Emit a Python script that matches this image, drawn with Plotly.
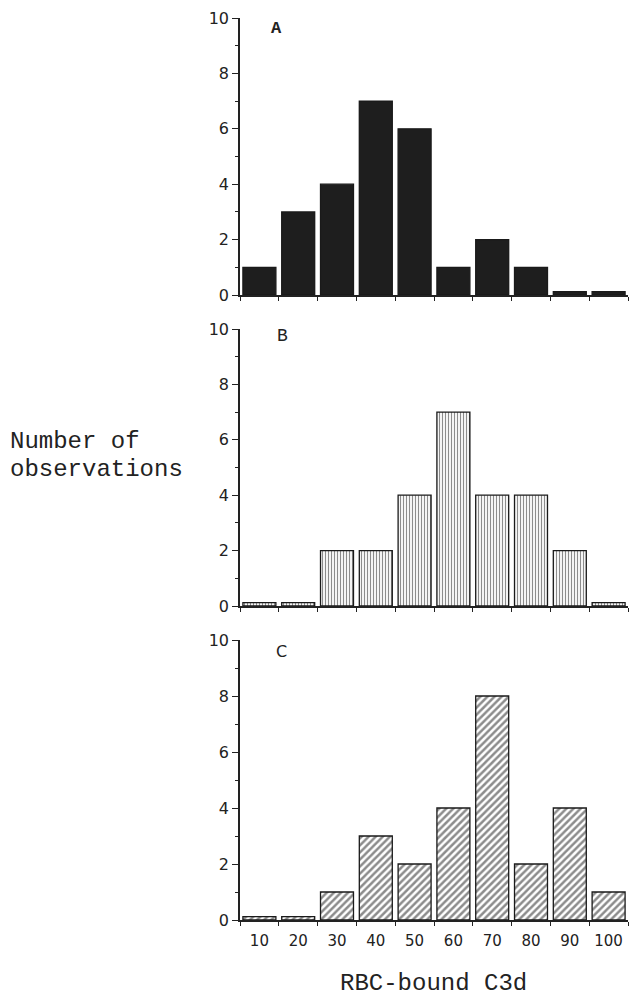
import plotly.graph_objects as go

bins = ["10", "20", "30", "40", "50", "60", "70", "80", "90", "100"]
counts_a = [1, 3, 4, 7, 6, 1, 2, 1, 0, 0]
counts_b = [0, 0, 2, 2, 4, 7, 4, 4, 2, 0]
counts_c = [0, 0, 1, 3, 2, 4, 8, 2, 4, 1]
panel_labels = ["A", "B", "C"]
y_ticks = [0, 2, 4, 6, 8, 10]
y_title_lines = ["Number of", "observations"]
x_title = "RBC-bound C3d"

ZERO_STUB = 0.12  # zero-count bins are drawn as a thin stub, as in the original

W, H = 631, 996
left_pg, right_pg = 240, 628
top_pg, bottom_pg = 18, 920
panels_pg = [(18, 295), (329, 606), (640, 920)]

span = bottom_pg - top_pg
plot_w = right_pg - left_pg
domains = [[(bottom_pg - b) / span, (bottom_pg - t) / span] for t, b in panels_pg]

fig = go.Figure()

series = [counts_a, counts_b, counts_c]
patterns = [
    dict(shape=""),
    dict(shape="|", size=3, solidity=0.4, fgcolor="#1a1a1a", bgcolor="white"),
    dict(shape="/", size=5, solidity=0.5, fgcolor="#1a1a1a", bgcolor="white"),
]
fills = ["#1e1e1e", "white", "white"]

mono = "Liberation Mono, Courier New, monospace"
sans = "DejaVu Sans, Verdana, sans-serif"

for i, (vals, pat, fill) in enumerate(zip(series, patterns, fills)):
    ax = "" if i == 0 else str(i + 1)
    fig.add_trace(go.Bar(
        x=bins, y=[v if v > 0 else ZERO_STUB for v in vals],
        width=0.85,
        marker=dict(color=fill, pattern=pat, line=dict(color="#1a1a1a", width=1.3)),
        xaxis="x" + ax, yaxis="y" + ax, showlegend=False, hoverinfo="skip",
    ))
    fig.layout["xaxis" + ax] = dict(
        domain=[0, 1], anchor="y" + ax, type="category",
        categoryorder="array", categoryarray=bins, range=[-0.5, 9.5],
        tickson="boundaries", ticks="outside", ticklen=4, tickwidth=1.3,
        tickcolor="#222", showline=True, linecolor="#222", linewidth=1.5,
        showgrid=False, zeroline=False, tickangle=0, ticklabelstandoff=6,
        showticklabels=(i == 2),
        tickfont=dict(family=sans, size=15, color="#222"),
    )
    fig.layout["yaxis" + ax] = dict(
        domain=domains[i], anchor="x" + ax, range=[0, 10],
        tickvals=y_ticks, ticks="outside", ticklen=6, tickwidth=1.3,
        tickcolor="#222", showline=True, linecolor="#222", linewidth=1.5,
        showgrid=False, zeroline=False,
        minor=dict(tickvals=[1, 3, 5, 7, 9], ticks="outside", ticklen=3,
                   tickwidth=1.2, tickcolor="#222", showgrid=False),
        tickfont=dict(family=sans, size=16, color="#222"),
    )

def px_x(px):
    return (px - left_pg) / plot_w
def px_y(py):
    return (bottom_pg - py) / span

ann = []
label_pos = [(276, 28), (282, 336), (281, 651)]
label_fonts = [dict(family=mono, size=17, color="#222"),
               dict(family=mono, size=18, color="#222"),
               dict(family=sans, size=16, color="#222")]
for lab, (x, y), f in zip(panel_labels, label_pos, label_fonts):
    ann.append(dict(text="<b>" + lab + "</b>" if lab == "A" else lab,
                    x=px_x(x), y=px_y(y), xref="paper", yref="paper",
                    xanchor="center", yanchor="middle", showarrow=False, font=f))

for line, yy in zip(y_title_lines, [441, 469]):
    ann.append(dict(text=line, x=px_x(8), y=px_y(yy),
                    xref="paper", yref="paper", xanchor="left", yanchor="middle",
                    align="left", showarrow=False,
                    font=dict(family=mono, size=24, color="#222")))
ann.append(dict(text=x_title, x=px_x(433), y=px_y(983),
                xref="paper", yref="paper", xanchor="center", yanchor="middle",
                showarrow=False, font=dict(family=mono, size=24, color="#222")))

fig.update_layout(
    width=W, height=H,
    margin=dict(l=left_pg, r=W - right_pg, t=top_pg, b=H - bottom_pg),
    plot_bgcolor="white", paper_bgcolor="white",
    bargap=0.15, annotations=ann, hovermode=False,
)

fig.write_html("out.html", config={"displayModeBar": False},
               post_script="document.body.style.margin='0';"
                           "document.body.style.overflow='hidden';")
